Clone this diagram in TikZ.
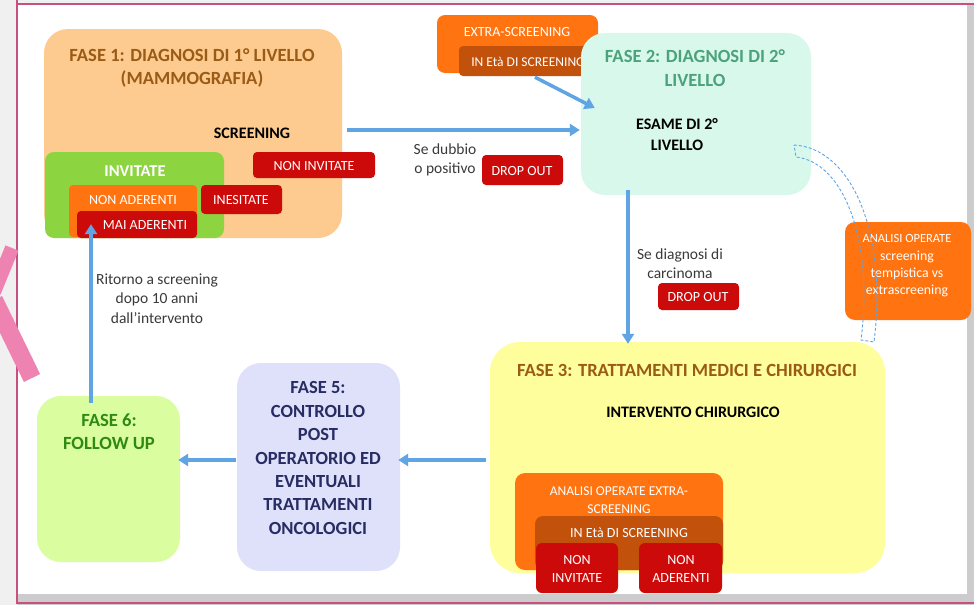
\documentclass[tikz,border=0pt]{standalone}
\usepackage{fontspec}
\setmainfont{Carlito}
\usetikzlibrary{calc,arrows.meta}
\definecolor{frameP}{HTML}{C8507E}
\definecolor{ribbonP}{HTML}{EE82B0}
\definecolor{f1fill}{HTML}{FDCB8F}
\definecolor{f1text}{HTML}{9A5B16}
\definecolor{f2fill}{HTML}{D8F8EC}
\definecolor{f2text}{HTML}{4CA27A}
\definecolor{f3fill}{HTML}{FEFE9C}
\definecolor{f5fill}{HTML}{DFE0FA}
\definecolor{f5text}{HTML}{272C63}
\definecolor{f6fill}{HTML}{DAFE9F}
\definecolor{f6text}{HTML}{2E8A10}
\definecolor{greenbox}{HTML}{8CD540}
\definecolor{orangebox}{HTML}{FF7410}
\definecolor{darkorange}{HTML}{C2520B}
\definecolor{redbox}{HTML}{CC0A0A}
\definecolor{arrowblue}{HTML}{5FA5E3}
\definecolor{labelgray}{HTML}{3A3A3A}
\tikzset{
  phase/.style={rounded corners=24pt, inner sep=0pt},
  tag/.style={rounded corners=4pt, inner sep=0pt},
  arr/.style={draw=arrowblue, line width=3.5pt, -{Triangle[length=10pt,width=12pt]}},
  ttl/.style={font=\fontsize{18.6}{23.5}\selectfont\bfseries, align=center},
  sub/.style={font=\fontsize{16}{21}\selectfont\bfseries, align=center},
  wtxt/.style={font=\fontsize{14}{18}\selectfont, text=white, align=center},
  lbl/.style={font=\fontsize{15.5}{19.5}\selectfont, text=labelgray, align=center},
}
\begin{document}
\begin{tikzpicture}[x=1pt,y=-1pt]
\useasboundingbox (0,0) rectangle (974,605);
% surroundings and slide frame
\fill[gray!12] (0,0) rectangle (974,605);
\fill[white] (17,4) rectangle (980,605);
\fill[gray!40] (17,594) rectangle (980,605);
\fill[gray!40] (967,4) rectangle (980,605);
\fill[white] (17,4) rectangle (965,592);
\draw[frameP, line width=2pt] (17,-2) -- (17,603) -- (980,603);
\draw[frameP, line width=2pt] (17,4) -- (980,4);
% ribbon pieces on the left margin
\begin{scope}
\clip (0,230) rectangle (40,400);
\draw[ribbonP, line width=14pt] (-6,292) -- (12,248);
\draw[ribbonP, line width=18pt] (-6,300) -- (32,378);
\end{scope}

% ---------- FASE 1 ----------
\node[phase, fill=f1fill, minimum width=298pt, minimum height=209pt] (f1) at (193,133.5) {};
\node[ttl, text=f1text] (f1t) at (192,68) {FASE 1: DIAGNOSI DI 1° LIVELLO\\(MAMMOGRAFIA)};
\node[sub] (scr) at (252,133) {SCREENING};
\node[tag, rounded corners=9pt, fill=greenbox, minimum width=179pt, minimum height=86pt] (inv) at (134.5,195) {};
\node[font=\fontsize{16.5}{20}\selectfont\bfseries, text=white] (invt) at (135,171) {INVITATE};
\node[tag, fill=orangebox, minimum width=128pt, minimum height=52pt] (nad) at (133,211) {};
\node[wtxt] (nadt) at (133,200) {NON ADERENTI};
\node[tag, fill=redbox, minimum width=120pt, minimum height=27pt] (mai) at (137,224.5) {};
\node[wtxt] (mait) at (145,225) {MAI ADERENTI};
\node[tag, fill=redbox, minimum width=81pt, minimum height=29pt] (ines) at (241.5,199.5) {};
\node[wtxt] (inest) at (241,200) {INESITATE};
\node[tag, fill=redbox, minimum width=122pt, minimum height=26pt] (ninv) at (314,165) {};
\node[wtxt] (ninvt) at (314,166) {NON INVITATE};

% ---------- extra-screening ----------
\node[tag, rounded corners=8pt, fill=orangebox, minimum width=161pt, minimum height=58pt] (ext) at (517.5,44) {};
\node[wtxt] (extt) at (517,32) {EXTRA-SCREENING};
\node[tag, fill=darkorange, minimum width=140pt, minimum height=30pt] (eta) at (529,61) {};
\node[wtxt, font=\fontsize{13.5}{18}\selectfont] (etat) at (528,62) {IN Età DI SCREENING};

% ---------- FASE 2 ----------
\node[phase, fill=f2fill, minimum width=230pt, minimum height=162pt] (f2) at (696,114) {};
\node[ttl, text=f2text] (f2t) at (695,68) {FASE 2: DIAGNOSI DI 2°\\LIVELLO};
\node[sub] (esa) at (677,135) {ESAME DI 2°\\LIVELLO};

% first arrow and its notes
\draw[arr] ([xshift=5pt]f1.east |- 0,130) -- ([xshift=-1pt]f2.west |- 0,130);
\node[lbl] (dub) at (445,160) {Se dubbio\\o positivo};
\node[tag, fill=redbox, minimum width=81pt, minimum height=30pt] (do1) at (522.5,170) {};
\node[wtxt] (do1t) at (522,171) {DROP OUT};
\draw[arr] ([shift={(6pt,-1pt)}]eta.south) -- ([shift={(14pt,6pt)}]f2.west);

% ---------- FASE 3 ----------
\node[phase, rounded corners=30pt, fill=f3fill, minimum width=395pt, minimum height=231pt] (f3) at (687.5,457.5) {};
\node[ttl, text=f1text] (f3t) at (687,370) {FASE 3: TRATTAMENTI MEDICI E CHIRURGICI};
\node[sub] (intv) at (693,412) {INTERVENTO CHIRURGICO};
\node[tag, rounded corners=10pt, fill=orangebox, minimum width=208pt, minimum height=97pt] (aoe) at (619,521.5) {};
\node[wtxt, font=\fontsize{13.5}{18}\selectfont] (aoet) at (619,500) {ANALISI OPERATE EXTRA-\\SCREENING};
\node[tag, rounded corners=8pt, fill=darkorange, minimum width=188pt, minimum height=54pt] (eta2) at (629,543) {};
\node[wtxt] (eta2t) at (629,533) {IN Età DI SCREENING};
\node[tag, rounded corners=6pt, fill=redbox, minimum width=82pt, minimum height=50pt] (ni3) at (577,568) {};
\node[wtxt] (ni3t) at (577,569) {NON\\INVITATE};
\node[tag, rounded corners=6pt, fill=redbox, minimum width=83pt, minimum height=50pt] (na3) at (680.5,568) {};
\node[wtxt] (na3t) at (681,569) {NON\\ADERENTI};

% second arrow and its notes
\draw[arr] ([yshift=5pt]f2.south -| 628,0) -- ([yshift=-2pt]f3.north -| 628,0);
\node[lbl] (car) at (680,263.5) {Se diagnosi di\\carcinoma};
\node[tag, fill=redbox, minimum width=81pt, minimum height=27pt] (do2) at (698.5,296.5) {};
\node[wtxt] (do2t) at (698,297) {DROP OUT};

% ---------- side analysis ----------
\node[tag, rounded corners=10pt, fill=orangebox, minimum width=126pt, minimum height=98pt] (ana) at (908,271) {};
\node[font=\fontsize{12.5}{17.3}\selectfont, text=white, align=center] (anat) at (907,266) {ANALISI OPERATE\\\fontsize{13.8}{17.3}\selectfont screening\\\fontsize{13.8}{17.3}\selectfont tempistica vs\\\fontsize{13.8}{17.3}\selectfont extrascreening};
% dashed curved link from FASE 2 to FASE 3
\coordinate (da) at (794,145);
\coordinate (db) at (796,157);
\coordinate (dc) at (874,342);
\coordinate (dd) at (861,340);
\draw[arrowblue, line width=0.9pt, dash pattern=on 3pt off 2pt]
  (da) .. controls (850,148) and (888,230) .. (dc)
  -- (dd) .. controls (874,236) and (842,162) .. (db) -- cycle;

% ---------- FASE 5 ----------
\node[phase, fill=f5fill, minimum width=163pt, minimum height=208pt] (f5) at (318.5,467) {};
\node[font=\fontsize{18.5}{23.4}\selectfont\bfseries, text=f5text, align=center] (f5t) at (318,458) {FASE 5:\\CONTROLLO\\POST\\OPERATORIO ED\\EVENTUALI\\TRATTAMENTI\\ONCOLOGICI};
\draw[arr] ([xshift=-4pt]f3.west |- 0,460) -- ([xshift=-2pt]f5.east |- 0,460);

% ---------- FASE 6 ----------
\node[phase, fill=f6fill, minimum width=143pt, minimum height=166pt] (f6) at (108.5,479) {};
\node[ttl, text=f6text] (f6t) at (109,431.5) {FASE 6:\\FOLLOW UP};
\draw[arr] ([xshift=-1pt]f5.west |- 0,460) -- ([xshift=-2pt]f6.east |- 0,460);

% return loop
\draw[arr] ([yshift=-7pt]f6.north -| 91,0) -- ([yshift=14pt]f1.south -| 91,0);
\node[lbl] (rit) at (157,298.5) {Ritorno a screening\\dopo 10 anni\\dall’intervento};
\end{tikzpicture}
\end{document}
